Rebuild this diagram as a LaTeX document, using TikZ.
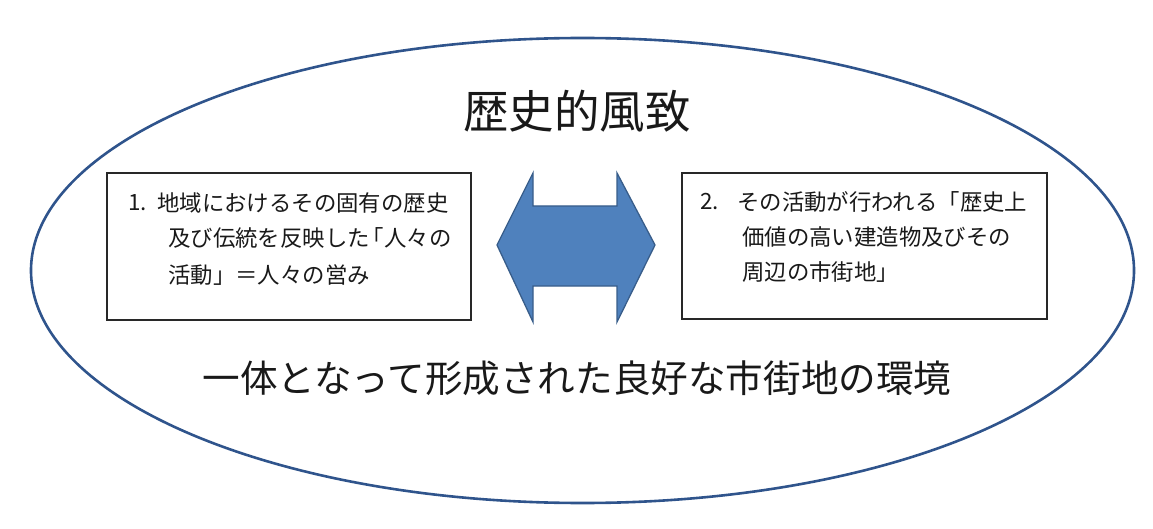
\documentclass[tikz,border=0pt]{standalone}
\usepackage{fontspec}
\setmainfont{Noto Sans CJK JP}
\definecolor{arrowfill}{RGB}{79,129,189}
\definecolor{arrowline}{RGB}{56,93,138}
\definecolor{ringline}{RGB}{47,84,140}
\definecolor{textcol}{RGB}{25,25,25}
\definecolor{boxline}{RGB}{40,40,40}
\tikzset{
  ring/.style={draw=ringline, line width=2.6pt, ellipse, inner sep=0pt},
  itembox/.style={draw=boxline, line width=1.4pt, inner sep=0pt},
  boxtext/.style={anchor=west, inner sep=0pt, text=textcol, font=\fontsize{22.4}{26}\selectfont},
  bigtext/.style={inner sep=0pt, text=textcol},
  dblarrow/.style={fill=arrowfill, draw=arrowline, line width=1.3pt, line join=miter},
}
\usetikzlibrary{shapes.geometric}
\begin{document}
\begin{tikzpicture}[x=1pt, y=-1pt]
\useasboundingbox (0,0) rectangle (1153,529);
\node[ring, minimum width=1103pt, minimum height=465pt] (frame) at (582.5,270.5) {};
\node[bigtext, font=\fontsize{45.5}{50}\selectfont] (title) at (577,111) {歴史的風致};
\node[itembox, minimum width=364pt, minimum height=147pt] (b1) at (289,246.5) {};
\node[itembox, minimum width=365pt, minimum height=146pt] (b2) at (864.5,246) {};
\node[boxtext] (n1) at (128,203) {1.};
\node[boxtext] (a1) at (157,203) {地域におけるその固有の歴史};
\node[boxtext] (a2) at (168,238) {及び伝統を反映した\kern-0.35em「人々の};
\node[boxtext] (a3) at (168,275) {活動」＝人々の営み};
\node[boxtext] (n2) at (700,202) {2.};
\node[boxtext] (c1) at (737,202) {その活動が行われる「歴史上};
\node[boxtext] (c2) at (742,237) {価値の高い建造物及びその};
\node[boxtext] (c3) at (742,272) {周辺の市街地」};
\draw[dblarrow] (497,245) -- (533,173) -- (533,206) -- (617,206) -- (617,173) -- (655,245)
  -- (617,322) -- (617,286) -- (533,286) -- (533,322) -- cycle;
\node[bigtext, font=\fontsize{37.6}{42}\selectfont] (bottom) at (577,378.5) {一体となって形成された良好な市街地の環境};
\end{tikzpicture}
\end{document}
